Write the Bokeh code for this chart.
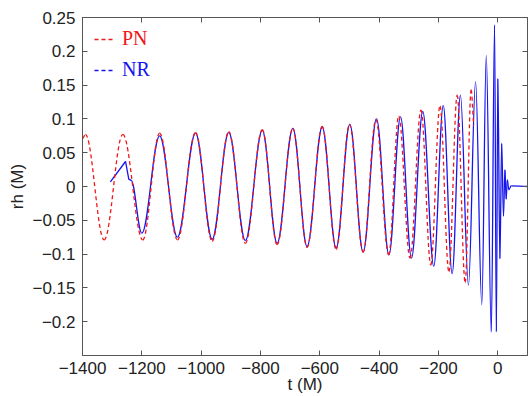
import numpy as np
from bokeh.plotting import figure
from bokeh.models import (Range1d, LinearAxis, FixedTicker, ColumnDataSource,
                          Legend, LegendItem)
from bokeh.embed import file_html
from bokeh.resources import INLINE

# ---------------- data ----------------
# PN waveform: successive extrema (t in M, rh in M)
pn_t = [-1400, -1390, -1327, -1264, -1197, -1140, -1080, -1019, -963, -907,
        -851, -794, -744, -691, -643, -592, -545, -500, -454, -411,
        -368, -334, -296, -259, -226, -195, -165, -137, -110, -90, -80]
pn_h = [0.071, 0.077, -0.079, 0.077, -0.079, 0.079, -0.079, 0.080, -0.081, 0.081,
        -0.084, 0.084, -0.086, 0.086, -0.090, 0.089, -0.093, 0.092, -0.097, 0.099,
        -0.101, 0.104, -0.106, 0.113, -0.116, 0.119, -0.126, 0.135, -0.142, 0.143, 0.090]

# NR waveform: initial junk segment, then successive extrema
nr_start_t = [-1306, -1255, -1244, -1236]
nr_start_h = [0.007, 0.037, 0.011, 0.009]
nr_t = [-1236, -1200, -1140, -1080, -1019, -963, -907, -851, -794, -744,
        -691, -643, -592, -545, -499, -454, -409, -367, -328, -291,
        -253, -216, -184, -154, -126, -99, -75, -54, -39, -22,
        -11, -5, 0, 7, 13, 19, 24, 28, 32, 37, 45, 100]
nr_h = [0.009, -0.069, 0.075, -0.075, 0.079, -0.078, 0.080, -0.080, 0.083, -0.084,
        0.086, -0.089, 0.088, -0.091, 0.092, -0.097, 0.100, -0.101, 0.103, -0.106,
        0.111, -0.118, 0.120, -0.129, 0.135, -0.146, 0.155, -0.175, 0.194, -0.215,
        0.239, -0.215, 0.160, -0.107, 0.064, -0.044, 0.025, -0.019, 0.010, -0.005, 0.001, 0.0]

x_ticks = [-1400, -1200, -1000, -800, -600, -400, -200, 0]
x_tick_labels = ["\u22121400", "\u22121200", "\u22121000", "\u2212800", "\u2212600",
                 "\u2212400", "\u2212200", "0"]
y_ticks = [-0.2, -0.15, -0.1, -0.05, 0, 0.05, 0.1, 0.15, 0.2, 0.25]
y_tick_labels = ["\u22120.2", "\u22120.15", "\u22120.1", "\u22120.05", "0",
                 "0.05", "0.1", "0.15", "0.2", "0.25"]

series_names = ["PN", "NR"]
x_label = "t (M)"
y_label = "rh (M)"

# ---------------- styling ----------------
RED = "#f01818"
BLUE = "#1414f0"
AXIS_C = "#555555"
TXT_C = "#222222"
TICK_FONT = "Liberation Sans"


def smooth_segments(t, h, k=0.364):
    """Cubic Bezier pieces between successive extrema (horizontal tangents)."""
    t = np.asarray(t, float)
    h = np.asarray(h, float)
    dt = np.diff(t)
    return ColumnDataSource(dict(
        x0=t[:-1], y0=h[:-1], x1=t[1:], y1=h[1:],
        cx0=t[:-1] + k * dt, cy0=h[:-1], cx1=t[1:] - k * dt, cy1=h[1:]))


p = figure(width=528, height=396, output_backend="svg", toolbar_location=None,
           x_range=Range1d(-1400, 100), y_range=Range1d(-0.25, 0.25),
           min_border_left=82, min_border_right=1, min_border_top=17,
           min_border_bottom=38)
p.background_fill_color = "white"
p.border_fill_color = "white"
p.outline_line_color = AXIS_C
p.outline_line_width = 1
p.xgrid.visible = False
p.ygrid.visible = False

# NR (solid blue)
p.line(nr_start_t, nr_start_h, line_color=BLUE, line_width=1.3)
p.bezier(x0="x0", y0="y0", x1="x1", y1="y1", cx0="cx0", cy0="cy0", cx1="cx1", cy1="cy1",
         source=smooth_segments(nr_t, nr_h), line_color=BLUE, line_width=1.3)
# PN (dashed red)
p.bezier(x0="x0", y0="y0", x1="x1", y1="y1", cx0="cx0", cy0="cy0", cx1="cx1", cy1="cy1",
         source=smooth_segments(pn_t, pn_h), line_color=RED, line_width=1.3,
         line_dash="4 3")


def style_axis(ax, ticks, overrides=None, labels=True):
    ax.ticker = FixedTicker(ticks=ticks)
    ax.axis_line_color = AXIS_C
    ax.major_tick_line_color = AXIS_C
    ax.major_tick_in = 5
    ax.major_tick_out = 0
    ax.minor_tick_line_color = None
    if labels:
        ax.major_label_overrides = overrides
        ax.major_label_text_font = TICK_FONT
        ax.major_label_text_font_size = "17px"
        ax.major_label_text_color = TXT_C
        ax.axis_label_text_font = TICK_FONT
        ax.axis_label_text_font_size = "17px"
        ax.axis_label_text_font_style = "normal"
        ax.axis_label_text_color = TXT_C
    else:
        ax.major_label_text_font_size = "1px"
        ax.major_label_text_color = None
        ax.major_label_text_alpha = 0
        ax.major_label_standoff = 0


xa = p.xaxis[0]
style_axis(xa, x_ticks, dict(zip(x_ticks, x_tick_labels)))
xa.axis_label = x_label
xa.major_label_standoff = 6
xa.axis_label_standoff = -2

ya = p.yaxis[0]
style_axis(ya, y_ticks, dict(zip(y_ticks, y_tick_labels)))
ya.axis_label = y_label
ya.major_label_standoff = 7
ya.axis_label_standoff = 2

top = LinearAxis()
style_axis(top, x_ticks, labels=False)
p.add_layout(top, "above")
right = LinearAxis()
style_axis(right, y_ticks, labels=False)
p.add_layout(right, "right")

# legend (dashed glyphs, labels coloured like their series)
pn_leg = p.line(x=[np.nan], y=[np.nan], line_color=RED, line_width=1.3, line_dash="4 3")
nr_leg = p.line(x=[np.nan], y=[np.nan], line_color=BLUE, line_width=1.3, line_dash="4 3")
for name, rend, col, loc in [(series_names[0], pn_leg, RED, (12, 305)),
                             (series_names[1], nr_leg, BLUE, (12, 274))]:
    lg = Legend(items=[LegendItem(label=name, renderers=[rend])], location=loc,
                border_line_color=None, background_fill_alpha=0,
                label_text_font="Liberation Serif", label_text_font_size="20px",
                label_text_color=col, glyph_width=20, glyph_height=20,
                label_standoff=8, padding=0, margin=0, spacing=0)
    p.add_layout(lg)

open("out.html", "w").write(file_html(p, INLINE))
